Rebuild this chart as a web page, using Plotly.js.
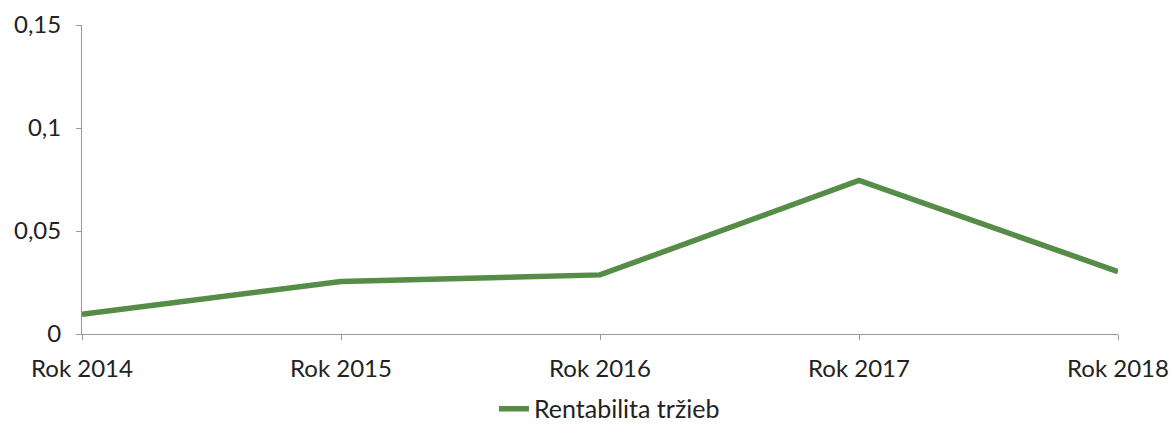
<!DOCTYPE html>
<html>
<head>
<meta charset="utf-8">
<script src="https://cdn.plot.ly/plotly-3.0.1.min.js"></script>
<style>html,body{margin:0;padding:0;background:#fff;}#chart{width:1172px;height:436px;}</style>
</head>
<body>
<div id="chart"></div>
<script>
const categories = ["Rok 2014", "Rok 2015", "Rok 2016", "Rok 2017", "Rok 2018"];
const seriesName = "Rentabilita tržieb";
const values = [0.0096, 0.0255, 0.0287, 0.0745, 0.0303];
const yTicks = [0, 0.05, 0.1, 0.15];
const yTickLabels = ["0", "0,05", "0,1", "0,15"];

const font = {family: "Lato, 'Open Sans', sans-serif", size: 24, color: "#222"};

Plotly.newPlot("chart", [{
  x: categories,
  y: values,
  type: "scatter",
  mode: "lines",
  name: seriesName,
  line: {color: "#558c46", width: 5.5}
}], {
  width: 1172, height: 436,
  margin: {l: 82, r: 54, t: 25, b: 102, autoexpand: false},
  paper_bgcolor: "#fff", plot_bgcolor: "#fff",
  font: font,
  showlegend: true,
  legend: {orientation: "h", x: 0.52, xanchor: "center", xref: "container",
           y: 0.062, yanchor: "middle", yref: "container",
           font: {family: font.family, size: 25, color: "#222"}},
  xaxis: {
    type: "category", range: [0, 4],
    showgrid: false, zeroline: false,
    showline: true, linecolor: "#999", linewidth: 1,
    ticks: "outside", ticklen: 5, tickcolor: "#999",
    ticklabelstandoff: 8,
    tickfont: font, fixedrange: true, automargin: false
  },
  yaxis: {
    range: [0, 0.15],
    tickvals: yTicks, ticktext: yTickLabels,
    showgrid: false, zeroline: false,
    showline: true, linecolor: "#999", linewidth: 1,
    ticks: "outside", ticklen: 5, tickcolor: "#999",
    ticklabelstandoff: 10,
    tickfont: font, fixedrange: true, automargin: false
  }
}, {displayModeBar: false, staticPlot: true});
</script>
</body>
</html>
